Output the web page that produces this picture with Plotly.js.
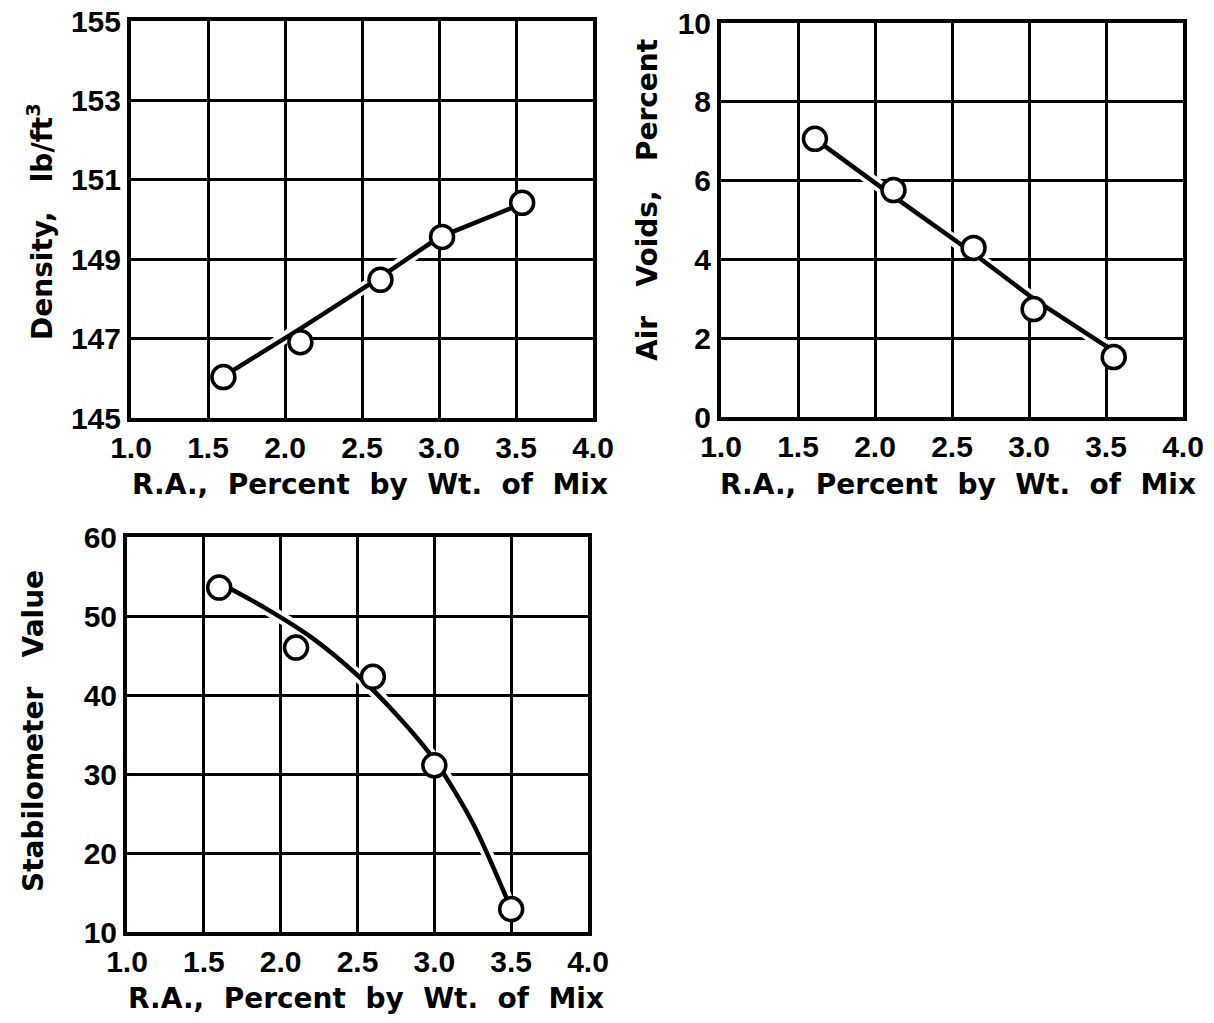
<!DOCTYPE html>
<html>
<head>
<meta charset="utf-8">
<script src="https://cdn.plot.ly/plotly-3.0.1.min.js"></script>
<style>html,body{margin:0;padding:0;background:#fff;}#chart{width:1214px;height:1023px;}</style>
</head>
<body>
<div id="chart"></div>
<script>
// ---- data ----
const xTickVals = [1.0, 1.5, 2.0, 2.5, 3.0, 3.5, 4.0];

const densityX = [1.6, 2.1, 2.62, 3.02, 3.54];
const densityY = [146.03, 146.91, 148.48, 149.56, 150.42];
const densityFitX = [1.6, 2.1, 2.6, 3.0, 3.54];
const densityFitY = [146.05, 147.25, 148.5, 149.55, 150.4];
const densityTicks = [145, 147, 149, 151, 153, 155];

const voidsX = [1.61, 2.12, 2.64, 3.03, 3.55];
const voidsY = [7.06, 5.76, 4.29, 2.74, 1.52];
const voidsFitX = [1.61, 2.12, 2.64, 3.03, 3.5];
const voidsFitY = [7.06, 5.6, 4.15, 3.0, 1.8];
const voidsTicks = [0, 2, 4, 6, 8, 10];

const stabX = [1.6, 2.1, 2.6, 3.0, 3.5];
const stabY = [53.6, 46.0, 42.3, 31.1, 12.9];
const stabFitX = [1.6, 1.9, 2.2, 2.5, 2.75, 3.0, 3.25, 3.5];
const stabFitY = [54.2, 51.0, 47.3, 42.5, 37.6, 31.8, 23.8, 12.9];
const stabTicks = [10, 20, 30, 40, 50, 60];

const xTitle = 'R.A.,\u00a0\u00a0Percent\u00a0\u00a0by\u00a0\u00a0Wt.\u00a0\u00a0of\u00a0\u00a0Mix';
const yTitles = ['Density,\u00a0\u00a0\u00a0lb/ft<sup>3</sup>', 'Air\u00a0\u00a0\u00a0Voids,\u00a0\u00a0\u00a0Percent', 'Stabilometer\u00a0\u00a0\u00a0Value'];

// ---- styling ----
const W = 1214, H = 1023;
const tickFont = {family: 'Liberation Sans, Arial, sans-serif', size: 30, color: '#000', weight: 700};
const titleFont = {family: 'DejaVu Sans, sans-serif', size: 28, color: '#000', weight: 700};

function px(x) { return x / W; }
function py(y) { return 1 - y / H; }

function xAxis(dom, anchor) {
  return {
    domain: dom, anchor: anchor, range: [1.0, 4.0],
    tickmode: 'array', tickvals: xTickVals, ticktext: xTickVals.map(v => v.toFixed(1)),
    showgrid: true, gridcolor: '#000', gridwidth: 3, zeroline: false,
    showline: true, linecolor: '#000', linewidth: 4, mirror: true,
    ticks: '', tickfont: tickFont, fixedrange: true
  };
}
function yAxis(dom, anchor, ticks) {
  return {
    domain: dom, anchor: anchor, range: [ticks[0], ticks[ticks.length - 1]],
    tickmode: 'array', tickvals: ticks, ticktext: ticks.map(String),
    showgrid: true, gridcolor: '#000', gridwidth: 3, zeroline: false,
    showline: true, linecolor: '#000', linewidth: 4, mirror: true,
    ticks: '', tickfont: tickFont, fixedrange: true
  };
}

function traces(xs, ys, fx, fy, xa, ya, spline) {
  const shape = spline ? 'spline' : 'linear';
  return [
    {x: fx, y: fy, xaxis: xa, yaxis: ya, mode: 'lines', line: {color: '#fff', width: 12, shape: shape, smoothing: 0.8}, hoverinfo: 'skip'},
    {x: fx, y: fy, xaxis: xa, yaxis: ya, mode: 'lines', line: {color: '#000', width: 4.5, shape: shape, smoothing: 0.8}},
    {x: xs, y: ys, xaxis: xa, yaxis: ya, mode: 'markers',
     marker: {symbol: 'circle', size: 23, color: '#fff', line: {color: '#000', width: 3.5}}}
  ];
}

const data = [].concat(
  traces(densityX, densityY, densityFitX, densityFitY, 'x', 'y', false),
  traces(voidsX, voidsY, voidsFitX, voidsFitY, 'x2', 'y2', false),
  traces(stabX, stabY, stabFitX, stabFitY, 'x3', 'y3', true)
);

const layout = {
  width: W, height: H,
  margin: {l: 0, r: 0, t: 0, b: 0},
  paper_bgcolor: '#fff', plot_bgcolor: '#fff',
  showlegend: false,
  xaxis: xAxis([px(131), px(593)], 'y'),
  yaxis: yAxis([py(418), py(21)], 'x', densityTicks),
  xaxis2: xAxis([px(721), px(1183)], 'y2'),
  yaxis2: yAxis([py(417), py(23)], 'x2', voidsTicks),
  xaxis3: xAxis([px(127), px(588)], 'y3'),
  yaxis3: yAxis([py(932), py(537)], 'x3', stabTicks),
  annotations: [
    {text: xTitle, x: px(370), y: py(484)},
    {text: xTitle, x: px(958), y: py(484)},
    {text: xTitle, x: px(366), y: py(998)},
    {text: yTitles[0], x: px(40), y: py(222), textangle: -90},
    {text: yTitles[1], x: px(647), y: py(200), textangle: -90},
    {text: yTitles[2], x: px(33), y: py(731), textangle: -90}
  ].map(a => Object.assign({xref: 'paper', yref: 'paper', showarrow: false,
    xanchor: 'center', yanchor: 'middle', font: titleFont}, a))
};

Plotly.newPlot('chart', data, layout, {displayModeBar: false, staticPlot: true});
</script>
</body>
</html>
